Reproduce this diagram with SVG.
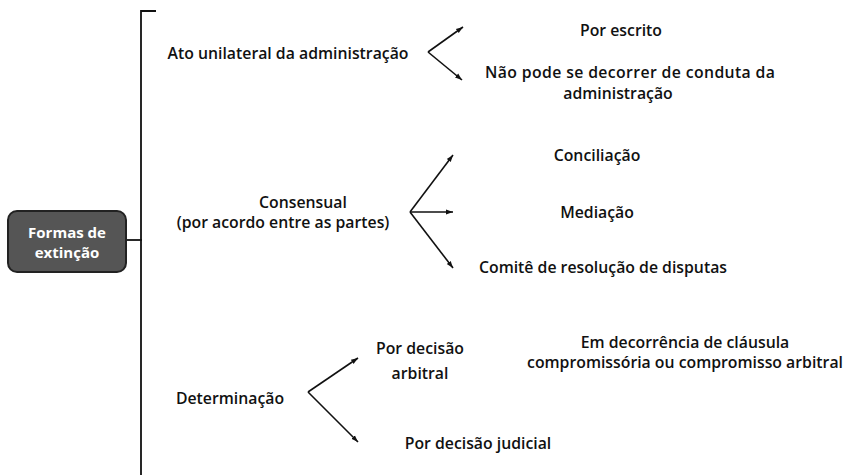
<svg xmlns="http://www.w3.org/2000/svg" width="849" height="475" viewBox="0 0 849 475">
<style>
.t{font-family:"Open Sans","Noto Sans","Liberation Sans",sans-serif;font-weight:600;font-size:15.8px;fill:#111;text-anchor:middle}
.c{stroke:#111;stroke-width:1.8;fill:none}
.a{stroke:#111;stroke-width:1.6;fill:none;marker-end:url(#ah)}
.box{fill:#555;stroke:#222;stroke-width:2}
.bt{font-family:"Open Sans","Noto Sans","Liberation Sans",sans-serif;font-weight:700;font-size:15px;fill:#fff;text-anchor:middle}
</style>
<defs>
<marker id="ah" markerWidth="8" markerHeight="8" refX="7" refY="4" orient="auto" markerUnits="userSpaceOnUse">
<path d="M0,1.5 L7,4 L0,6.5 Z" fill="#111"/>
</marker>
</defs>
<rect width="849" height="475" fill="#fff"/>
<g id="connectors">
<path class="c" d="M126,240 H142"/>
<path class="c" d="M156,11 H141 V475"/>
<path class="a" d="M428,52 L463,27"/>
<path class="a" d="M428,52 L462,80"/>
<path class="a" d="M410,212 L453,155"/>
<path class="a" d="M410,212 L453,212"/>
<path class="a" d="M410,212 L453,268"/>
<path class="a" d="M308,392 L358,358"/>
<path class="a" d="M308,392 L358,442"/>
</g>
<g id="root">
<rect class="box" x="8" y="211" width="118" height="61" rx="9"/>
<text class="bt" x="67" y="238">Formas de</text>
<text class="bt" x="67" y="258">extinção</text>
</g>
<g id="ato">
<text class="t" x="288" y="59">Ato unilateral da administração</text>
</g>
<g id="por-escrito">
<text class="t" x="621" y="36">Por escrito</text>
</g>
<g id="nao-pode">
<text class="t" x="630" y="78" textLength="290">Não pode se decorrer de conduta da</text>
<text class="t" x="618" y="99">administração</text>
</g>
<g id="consensual">
<text class="t" x="303" y="208">Consensual</text>
<text class="t" x="283" y="228">(por acordo entre as partes)</text>
</g>
<g id="conciliacao">
<text class="t" x="597" y="161">Conciliação</text>
</g>
<g id="mediacao">
<text class="t" x="597" y="218">Mediação</text>
</g>
<g id="comite">
<text class="t" x="603" y="273">Comitê de resolução de disputas</text>
</g>
<g id="determinacao">
<text class="t" x="230" y="404">Determinação</text>
</g>
<g id="arbitral">
<text class="t" x="420" y="354">Por decisão</text>
<text class="t" x="420" y="379">arbitral</text>
</g>
<g id="clausula">
<text class="t" x="685" y="348">Em decorrência de cláusula</text>
<text class="t" x="685" y="368">compromissória ou compromisso arbitral</text>
</g>
<g id="judicial">
<text class="t" x="478" y="449">Por decisão judicial</text>
</g>
</svg>
